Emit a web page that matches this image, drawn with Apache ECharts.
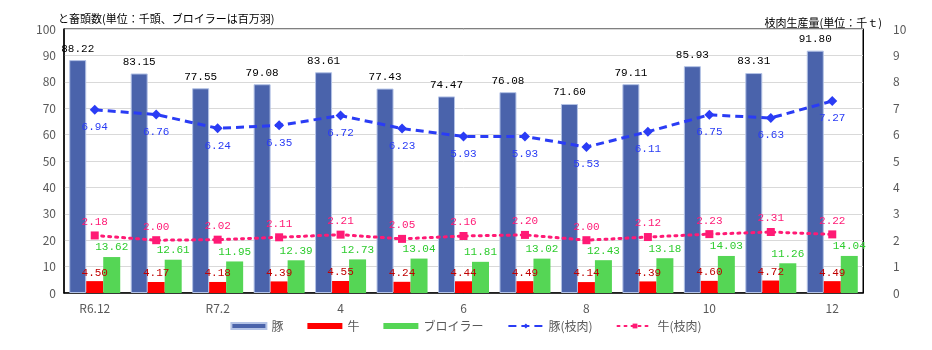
<!DOCTYPE html>
<html><head><meta charset="utf-8">
<script src="https://cdn.jsdelivr.net/npm/echarts@6/dist/echarts.min.js"></script>
<style>html,body{margin:0;padding:0;background:#fff}#c{width:932px;height:350px}</style>
</head><body><div id="c"></div>
<script>
const categories = ['R6.12','','R7.2','','4','','6','','8','','10','','12'];
const pig = [88.22,83.15,77.55,79.08,83.61,77.43,74.47,76.08,71.60,79.11,85.93,83.31,91.80];
const cattle = [4.50,4.17,4.18,4.39,4.55,4.24,4.44,4.49,4.14,4.39,4.60,4.72,4.49];
const broiler = [13.62,12.61,11.95,12.39,12.73,13.04,11.81,13.02,12.43,13.18,14.03,11.26,14.04];
const pigMeat = [6.94,6.76,6.24,6.35,6.72,6.23,5.93,5.93,5.53,6.11,6.75,6.63,7.27];
const cattleMeat = [2.18,2.00,2.02,2.11,2.21,2.05,2.16,2.20,2.00,2.12,2.23,2.31,2.22];

const F = '"Noto Sans CJK JP","Noto Sans",sans-serif';
const M = '"Liberation Mono","DejaVu Sans Mono",monospace';
const chart = echarts.init(document.getElementById('c'));
const fmt = p => p.value.toFixed(2);
const lbl = (color, pos, dist) => ({show:true, position:pos, distance:dist, color:color, fontSize:11, fontFamily:M, formatter:fmt});
chart.setOption({
  animation:false,
  textStyle:{fontFamily:F},
  title:[
    {text:'と畜頭数(単位：千頭、ブロイラーは百万羽)', left:53, top:8, textStyle:{fontSize:11, fontWeight:'normal', color:'#000', fontFamily:F}},
    {text:'枝肉生産量(単位：千ｔ)', right:45, top:12, textStyle:{fontSize:11, fontWeight:'normal', color:'#000', fontFamily:F}}
  ],
  grid:{left:64, right:69, top:29, bottom:57, show:true, borderColor:'#000', borderWidth:1},
  legend:{bottom:13, left:'center', itemWidth:35, itemHeight:6, itemGap:24,
    textStyle:{fontSize:12, color:'#595959', fontFamily:F},
    data:[
      {name:'豚', icon:'rect'},
      {name:'牛', icon:'rect'},
      {name:'ブロイラー', icon:'rect'},
      {name:'豚(枝肉)'},
      {name:'牛(枝肉)'}
    ]},
  xAxis:{type:'category', data:categories,
    axisLine:{lineStyle:{color:'#000', width:1.5}}, axisTick:{show:false},
    axisLabel:{interval:0, color:'#595959', fontSize:12, margin:9}},
  yAxis:[
    {type:'value', min:0, max:100, interval:10, position:'left',
      axisLine:{show:true, lineStyle:{color:'#000', width:1.5}},
      axisLabel:{color:'#595959', fontSize:12, margin:8},
      splitLine:{lineStyle:{color:'#d9d9d9'}}},
    {type:'value', min:0, max:10, interval:1, position:'right',
      axisLine:{show:true, lineStyle:{color:'#000'}},
      axisLabel:{color:'#595959', fontSize:12, margin:30},
      splitLine:{show:false}}
  ],
  series:[
    {name:'豚', type:'bar', data:pig, barWidth:17, barGap:'0%',
      itemStyle:{color:'#4a63ab', borderColor:'#b4c3e6', borderWidth:1},
      label:lbl('#000','top',6)},
    {name:'牛', type:'bar', data:cattle, barWidth:17,
      itemStyle:{color:'#ff0000'},
      label:lbl('#c00000','top',3)},
    {name:'ブロイラー', type:'bar', data:broiler, barWidth:17,
      itemStyle:{color:'#55d655'},
      label:lbl('#2ecc2e','top',4)},
    {name:'豚(枝肉)', type:'line', yAxisIndex:1, data:pigMeat,
      symbol:'diamond', symbolSize:10,
      lineStyle:{color:'#2a3cf5', width:3, type:[8,5]},
      itemStyle:{color:'#2a3cf5'},
      label:lbl('#2a3cf5','bottom',7)},
    {name:'牛(枝肉)', type:'line', yAxisIndex:1, data:cattleMeat,
      symbol:'rect', symbolSize:8,
      lineStyle:{color:'#ff1a75', width:3, type:[2,5], cap:'round'},
      itemStyle:{color:'#ff1a75'},
      label:lbl('#ff1a75','top',4)}
  ]
});
</script></body></html>
